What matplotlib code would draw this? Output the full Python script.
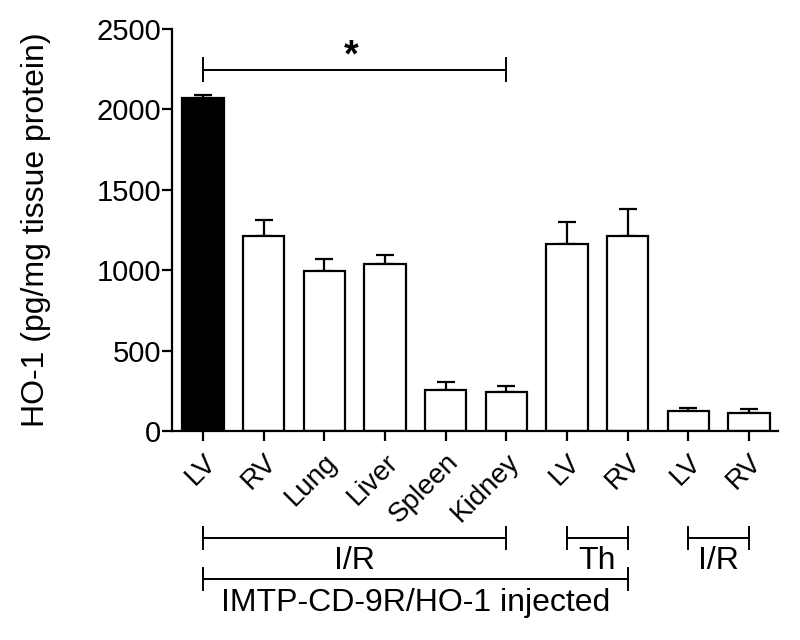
import numpy as np
import matplotlib
matplotlib.use('Agg')
import matplotlib.pyplot as plt
import matplotlib.transforms as mtransforms

plt.rcParams['font.family'] = ['Liberation Sans', 'DejaVu Sans']

labels = ['LV', 'RV', 'Lung', 'Liver', 'Spleen', 'Kidney', 'LV', 'RV', 'LV', 'RV']
means = [2070, 1215, 995, 1037, 253, 245, 1165, 1211, 124, 114]
errs = [20, 100, 73, 58, 54, 33, 137, 170, 19, 21]
colors = ['k'] + ['white'] * 9

# bottom group brackets: (start index, end index, text, row)
groups = [(0, 5, 'I/R', 0), (6, 7, 'Th', 0), (8, 9, 'I/R', 0), (0, 7, 'IMTP-CD-9R/HO-1 injected', 1)]

fig = plt.figure(figsize=(8, 6.4), dpi=100)
ax = fig.add_axes([0.215, 0.3266, 0.7575, 0.628])

x = np.arange(len(labels))
ax.bar(x, means, width=0.68, color=colors, edgecolor='k', linewidth=1.6, zorder=2)
ax.errorbar(x, means, yerr=[np.zeros(len(errs)), errs], fmt='none', ecolor='k',
            elinewidth=1.6, capsize=6.5, capthick=1.6, zorder=1)

ax.set_xlim(-0.51, 9.48)
ax.set_ylim(0, 2500)
ax.set_yticks([0, 500, 1000, 1500, 2000, 2500])
ax.set_xticks(x)
ax.set_xticklabels(labels, rotation=45, ha='right', va='top', rotation_mode='anchor', fontsize=20)
ax.tick_params(axis='y', labelsize=21, width=1.6, length=7, pad=1)
ax.tick_params(axis='x', width=1.6, length=7, pad=6)
for s in ['top', 'right']:
    ax.spines[s].set_visible(False)
for s in ['left', 'bottom']:
    ax.spines[s].set_linewidth(1.6)
ax.set_ylabel('HO-1 (pg/mg tissue protein)', fontsize=23)
ax.yaxis.set_label_coords(-0.2, 0.5)

# significance bracket
ax.plot([0, 5], [2247, 2247], color='k', lw=1.4, clip_on=False)
for xe in [0, 5]:
    ax.plot([xe, xe], [2177, 2320], color='k', lw=1.4, clip_on=False)
ax.text(2.45, 2330, '*', ha='center', va='center', fontsize=27, fontweight='bold')

# group brackets below axis
trans = mtransforms.blended_transform_factory(ax.transData, ax.transAxes)
row_y = [-0.266, -0.368]
for i0, i1, txt, row in groups:
    yb = row_y[row]
    ax.plot([i0, i1], [yb, yb], color='k', lw=1.4, transform=trans, clip_on=False)
    for xe in [i0, i1]:
        ax.plot([xe, xe], [yb + 0.027, yb - 0.028], color='k', lw=1.4, transform=trans, clip_on=False)
    if row == 0:
        xc = (i0 + i1) / 2 if txt != 'Th' else i0 + 0.5
        ax.text(xc, yb - 0.057, txt, transform=trans, ha='center', va='center', fontsize=23)
    else:
        ax.text((i0 + i1) / 2, yb - 0.06, txt, transform=trans, ha='center', va='center', fontsize=23)

fig.savefig('out.png', dpi=100)
